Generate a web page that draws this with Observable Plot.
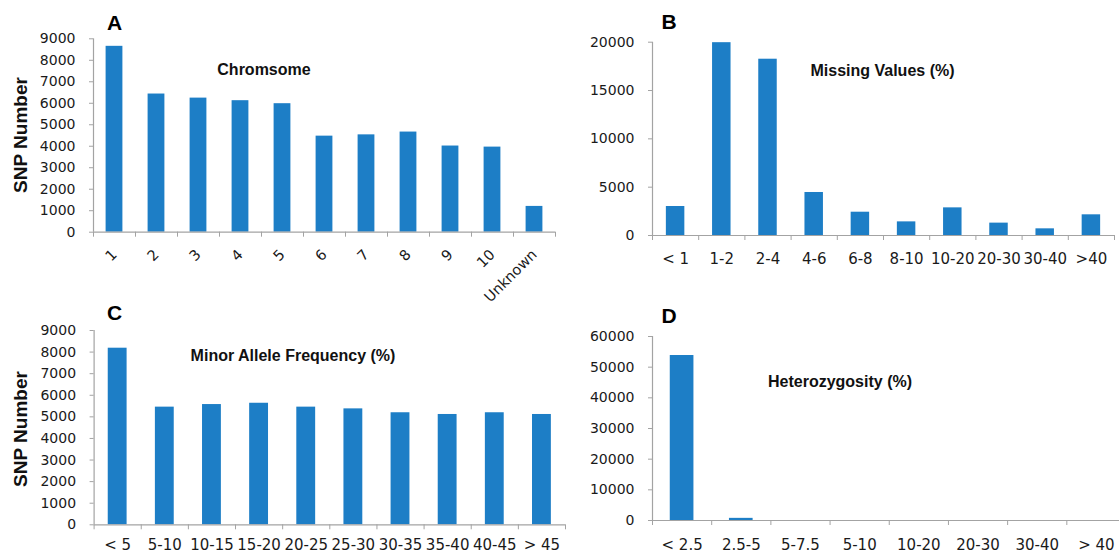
<!DOCTYPE html>
<html>
<head>
<meta charset="utf-8">
<script src="https://cdn.jsdelivr.net/npm/d3@7"></script>
<script src="https://cdn.jsdelivr.net/npm/@observablehq/plot@0.6"></script>
<style>
  html, body { margin: 0; padding: 0; background: #fff; overflow: hidden; }
  #wrap { position: relative; width: 1119px; height: 557px; overflow: hidden; background: #fff; }
  #wrap > svg, #wrap > div { position: absolute; }
</style>
</head>
<body>
<div id="wrap"></div>
<script>
// ---- Data ----
const chromCats = ["1", "2", "3", "4", "5", "6", "7", "8", "9", "10", "Unknown"];
const chromVals = [8650, 6430, 6240, 6120, 5980, 4470, 4530, 4660, 4010, 3960, 1200];

const missCats = ["< 1", "1-2", "2-4", "4-6", "6-8", "8-10", "10-20", "20-30", "30-40", ">40"];
const missVals = [3000, 19950, 18240, 4450, 2410, 1410, 2860, 1280, 690, 2140];

const mafCats = ["< 5", "5-10", "10-15", "15-20", "20-25", "25-30", "30-35", "35-40", "40-45", "> 45"];
const mafVals = [8180, 5450, 5570, 5630, 5450, 5370, 5190, 5110, 5190, 5110];

const hetCats = ["< 2.5", "2.5-5", "5-7.5", "5-10", "10-20", "20-30", "30-40", "> 40"];
const hetVals = [53800, 700, 0, 0, 0, 0, 0, 0];

const yTicksA = [0, 1000, 2000, 3000, 4000, 5000, 6000, 7000, 8000, 9000];
const yTicksB = [0, 5000, 10000, 15000, 20000];
const yTicksC = [0, 1000, 2000, 3000, 4000, 5000, 6000, 7000, 8000, 9000];
const yTicksD = [0, 10000, 20000, 30000, 40000, 50000, 60000];

const panelLetters = ["A", "B", "C", "D"];
const panelTitles = ["Chromsome", "Missing Values (%)", "Minor Allele Frequency (%)", "Heterozygosity (%)"];
const yAxisTitle = "SNP Number";

// ---- Style ----
const BLUE = "#1d7ec6";
const AXIS = "#a3a3a3";
const TEXT = "#1a1a1a";

const wrap = document.getElementById("wrap");

function panel(cfg) {
  const n = cfg.cats.length;
  const data = cfg.vals.map((v, i) => ({i, v, c: cfg.cats[i]}));
  const yTicks = cfg.yTicks;
  const ymax = yTicks[yTicks.length - 1];
  const labelOpts = {ticks: d3.range(n).map(i => i + 0.5), tickFormat: t => cfg.cats[Math.floor(t)],
    tickSize: 0, tickPadding: cfg.labelPad, label: null, fill: TEXT, fontSize: cfg.xFont};
  if (cfg.rotate) labelOpts.tickRotate = -45;
  const svg = Plot.plot({
    width: cfg.width,
    height: cfg.height,
    marginLeft: cfg.mL,
    marginRight: cfg.mR,
    marginTop: cfg.mT,
    marginBottom: cfg.mB,
    style: {background: "transparent", fontFamily: "DejaVu Sans, sans-serif", fontSize: "14px", color: TEXT, overflow: "visible"},
    x: {type: "linear", domain: [0, n]},
    y: {domain: [0, ymax]},
    marks: [
      Plot.rectY(data, {x1: d => d.i + 0.3, x2: d => d.i + 0.7, y: "v", fill: BLUE}),
      Plot.ruleX([0], {stroke: AXIS, strokeWidth: 1.2}),
      Plot.ruleY([0], {stroke: AXIS, strokeWidth: 1.2}),
      Plot.axisY({ticks: yTicks, tickFormat: d => String(d), tickSize: 4, tickPadding: 14, stroke: AXIS, label: null, fill: TEXT, fontSize: 14}),
      Plot.axisX({ticks: d3.range(0, n + 1), tickFormat: () => "", tickSize: 5, stroke: AXIS, label: null}),
      Plot.axisX(labelOpts)
    ]
  });
  svg.style.left = cfg.left + "px";
  svg.style.top = cfg.top + "px";
  wrap.appendChild(svg);
}

panel({cats: chromCats, vals: chromVals, yTicks: yTicksA, left: 0, top: 0, width: 560, height: 290,
  mL: 93, mR: 5, mT: 38.3, mB: 58.3, rotate: true, labelPad: 20, xFont: 14.5});
panel({cats: missCats, vals: missVals, yTicks: yTicksB, left: 560, top: 0, width: 559, height: 290,
  mL: 92, mR: 5, mT: 41.7, mB: 55, rotate: false, labelPad: 18, xFont: 15});
panel({cats: mafCats, vals: mafVals, yTicks: yTicksC, left: 0, top: 290, width: 566, height: 267,
  mL: 93.6, mR: 1, mT: 40, mB: 32.7, rotate: false, labelPad: 15, xFont: 15});
panel({cats: hetCats, vals: hetVals, yTicks: yTicksD, left: 560, top: 290, width: 566, height: 267,
  mL: 92, mR: 0.5, mT: 46, mB: 37, rotate: false, labelPad: 19, xFont: 15});

// ---- Annotation overlay ----
const ov = d3.select(wrap).append("svg")
  .attr("width", 1119).attr("height", 557)
  .style("left", "0px").style("top", "0px")
  .style("font-family", "Liberation Sans, Arial, sans-serif")
  .style("font-weight", "bold")
  .attr("fill", "#000");

const letterPos = [[107, 30], [661.5, 29], [107, 320], [661.5, 323]];
panelLetters.forEach((t, k) => {
  ov.append("text").attr("x", letterPos[k][0]).attr("y", letterPos[k][1])
    .attr("font-size", 21).text(t);
});

const titlePos = [[264, 75], [882.5, 76], [293, 361], [840, 387]];
panelTitles.forEach((t, k) => {
  ov.append("text").attr("x", titlePos[k][0]).attr("y", titlePos[k][1])
    .attr("font-size", 16).attr("text-anchor", "middle").attr("fill", "#111").text(t);
});

[[26.5, 135], [26.5, 429]].forEach(p => {
  ov.append("text").attr("transform", `translate(${p[0]},${p[1]}) rotate(-90)`)
    .attr("font-size", 19).attr("text-anchor", "middle").attr("fill", "#111").text(yAxisTitle);
});
</script>
</body>
</html>
